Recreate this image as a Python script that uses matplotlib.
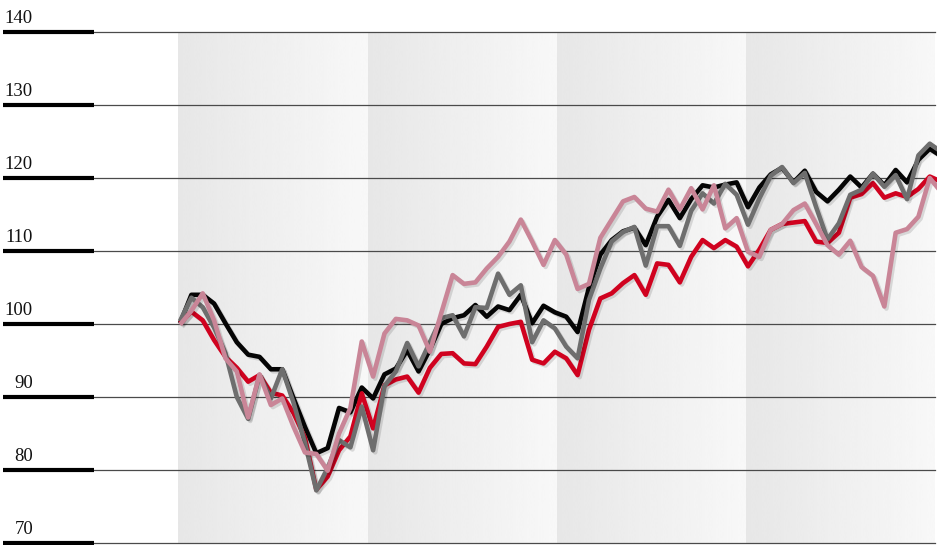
import numpy as np
import matplotlib
matplotlib.use("Agg")
import matplotlib.pyplot as plt
import matplotlib.patheffects as pe
import matplotlib.transforms as mtransforms

# Index levels (start = 100)
y_ticks = [70, 80, 90, 100, 110, 120, 130, 140]

black_series = [
    100.1, 104.0, 104.0, 102.8, 100.1, 97.5, 95.8, 95.5, 93.8, 93.8,
    89.8, 85.9, 82.3, 83.0, 88.5, 87.9, 91.3, 89.8, 93.1, 93.9,
    96.4, 93.5, 96.5, 100.0, 100.8, 101.2, 102.6, 101.0, 102.4, 101.9,
    104.0, 100.1, 102.5, 101.6, 101.0, 98.9, 105.0, 109.5, 111.5, 112.7,
    113.2, 110.8, 114.7, 117.0, 114.5, 117.1, 119.0, 118.7, 119.1, 119.4,
    116.0, 118.7, 120.5, 121.4, 119.4, 121.0, 118.1, 116.8, 118.4, 120.2,
    118.7, 120.6, 119.0, 121.1, 119.4, 122.5, 124.0, 123.0,
]
gray_series = [
    100.4, 103.6, 102.3, 99.5, 96.0, 90.0, 87.0, 93.0, 89.8, 93.8,
    89.2, 83.7, 77.2, 80.3, 84.1, 83.1, 88.7, 82.7, 91.5, 93.5,
    97.4, 94.2, 97.5, 100.8, 101.2, 98.3, 102.3, 102.2, 106.9, 104.0,
    105.3, 97.5, 100.5, 99.4, 96.9, 95.3, 103.3, 107.6, 111.3, 112.6,
    113.3, 108.0, 113.4, 113.4, 110.7, 115.5, 117.9, 116.5, 119.2, 117.7,
    113.6, 117.2, 120.3, 121.5, 119.3, 120.7, 116.0, 111.6, 113.8, 117.7,
    118.4, 120.6, 118.8, 120.4, 117.1, 123.1, 124.7, 123.6,
]
red_series = [
    100.1, 101.7, 100.5, 97.8, 95.5, 94.0, 92.1, 93.0, 90.6, 90.2,
    87.8, 84.4, 77.3, 79.1, 82.7, 84.6, 90.5, 85.7, 91.6, 92.4,
    92.8, 90.6, 94.0, 95.9, 96.0, 94.6, 94.5, 96.9, 99.6, 100.0,
    100.3, 95.1, 94.6, 96.2, 95.3, 93.0, 99.2, 103.5, 104.2, 105.6,
    106.7, 104.0, 108.3, 108.1, 105.7, 109.2, 111.5, 110.4, 111.5, 110.6,
    107.9, 110.2, 112.9, 113.7, 113.9, 114.1, 111.3, 111.1, 112.5, 117.3,
    117.8, 119.3, 117.3, 117.9, 117.4, 118.5, 120.2, 119.5,
]
pink_series = [
    99.9, 101.8, 104.2, 100.5, 95.3, 93.5, 87.2, 93.1, 88.9, 89.8,
    85.9, 82.4, 82.2, 79.9, 85.0, 88.5, 97.6, 92.8, 98.7, 100.7,
    100.5, 99.8, 96.2, 101.5, 106.7, 105.5, 105.7, 107.6, 109.2, 111.3,
    114.3, 111.3, 108.1, 111.5, 109.5, 104.8, 105.5, 111.8, 114.3, 116.8,
    117.4, 115.8, 115.4, 118.4, 115.7, 118.6, 115.7, 119.0, 113.1, 114.5,
    109.9, 109.2, 112.9, 113.7, 115.6, 116.5, 113.7, 110.8, 109.5, 111.4,
    107.8, 106.6, 102.4, 112.5, 113.0, 114.7, 120.0, 118.1,
]
periods = np.arange(len(black_series))

W, H = 941, 545
fig = plt.figure(figsize=(W / 100, H / 100), dpi=100)

# Shaded period bands (pixel space background)
bg = fig.add_axes([0, 0, 1, 1])
band_edges = [178, 368, 557, 746, 935]
grad = np.linspace(0.905, 0.972, 256)[None, :]
for x0, x1 in zip(band_edges[:-1], band_edges[1:]):
    bg.imshow(grad, cmap="gray", vmin=0, vmax=1, extent=(x0, x1, 543, 32),
              aspect="auto", interpolation="bicubic")
bg.set_xlim(0, W)
bg.set_ylim(H, 0)
bg.set_axis_off()

# Main plotting axes
px_per_step = 11.36
px_per_unit = 7.3
ax_w = 937
ax = fig.add_axes([0, 0, ax_w / W, 1])
ax.set_xlim(-180 / px_per_step, -180 / px_per_step + ax_w / px_per_step)
ymax = 140 + 32 / px_per_unit
ax.set_ylim(ymax - H / px_per_unit, ymax)
ax.set_axis_off()

for v in y_ticks:
    ax.axhline(v, xmin=94 / ax_w, xmax=935 / ax_w, color="#4a4a4a", lw=0.9, zorder=1)
    ax.axhline(v, xmin=3 / ax_w, xmax=94 / ax_w, color="black", lw=3,
               solid_capstyle="butt", zorder=1)

trans = mtransforms.blended_transform_factory(ax.transAxes, ax.transData)
label_trans = mtransforms.offset_copy(trans, fig=fig, x=0, y=9, units="dots")
for v in y_ticks:
    ax.text(33 / ax_w, v, str(v), transform=label_trans, ha="right", va="baseline",
            fontfamily="Liberation Serif", fontsize=13.5, color="#111111")

shadow = [pe.SimpleLineShadow(offset=(1.5, -1.5), shadow_color="black", alpha=0.12),
          pe.Normal()]
series = [
    (black_series, "#050505"),
    (red_series, "#d0021f"),
    (gray_series, "#6e6e6e"),
    (pink_series, "#c98597"),
]
for i, (vals, col) in enumerate(series):
    ax.plot(periods, vals, color=col, lw=3.3, solid_joinstyle="round",
            solid_capstyle="butt", path_effects=shadow, zorder=3 + i)

fig.savefig("out.png", dpi=100)
